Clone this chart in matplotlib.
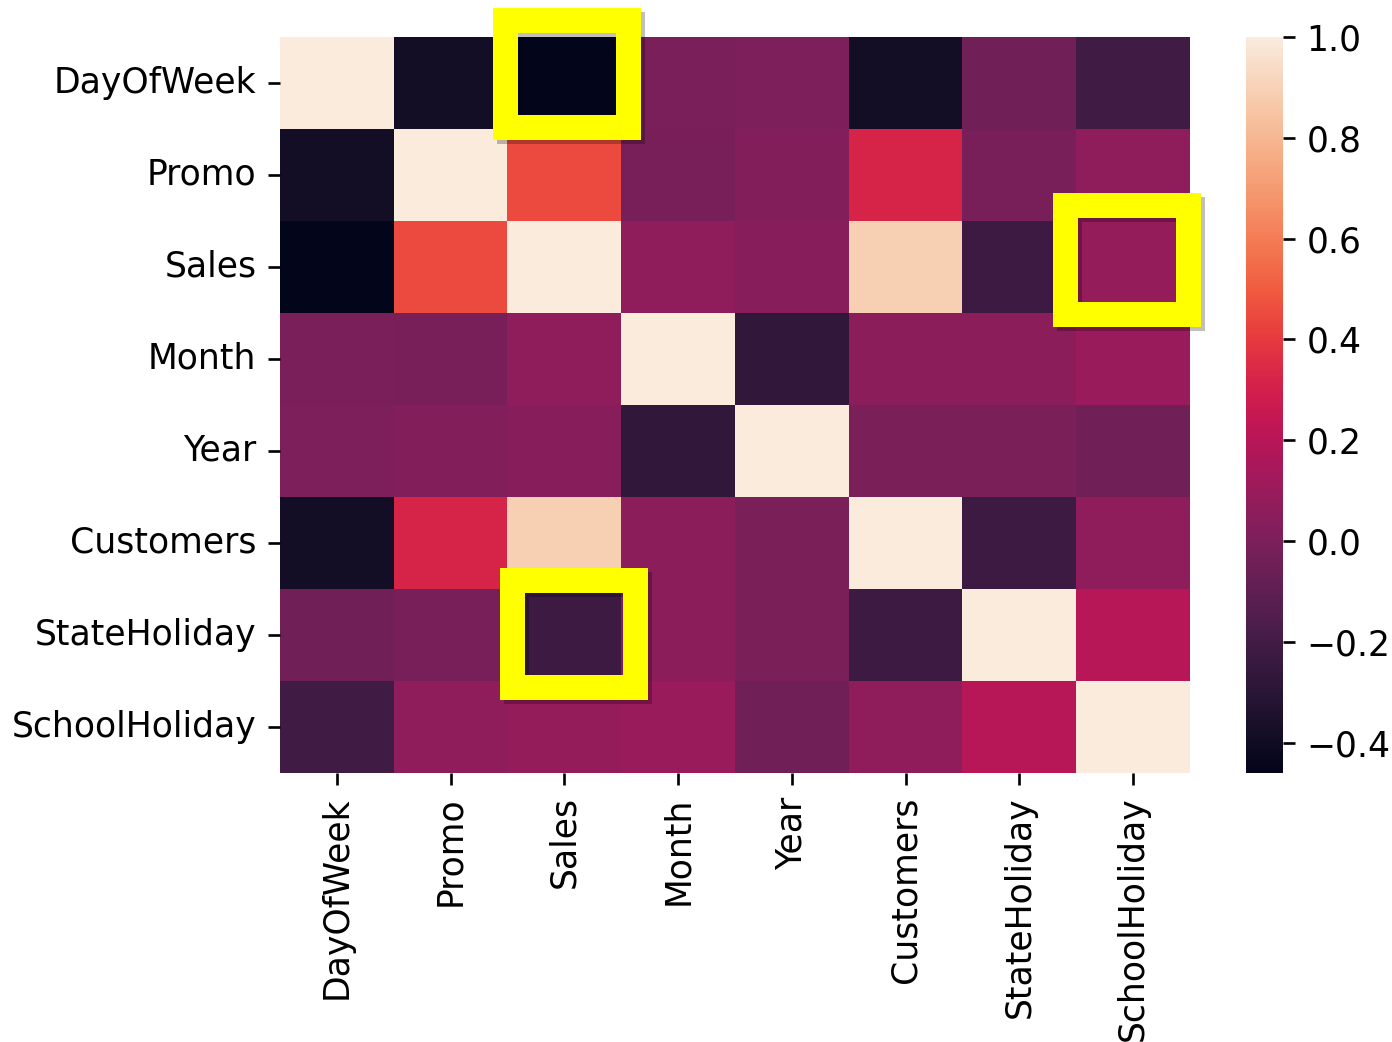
import numpy as np
import pandas as pd
import matplotlib
matplotlib.use("Agg")
import matplotlib.pyplot as plt
import matplotlib.patheffects as pe
from matplotlib.patches import Rectangle
import seaborn as sns

plt.rcParams["font.size"] = 10.4

# correlation matrix of the store features
cols = ["DayOfWeek", "Promo", "Sales", "Month", "Year",
        "Customers", "StateHoliday", "SchoolHoliday"]

day_of_week = [1.00, -0.39, -0.46, -0.005, 0.002, -0.39, -0.04, -0.21]
promo = [-0.39, 1.00, 0.45, -0.01, 0.02, 0.32, -0.015, 0.067]
sales = [-0.46, 0.45, 1.00, 0.07, 0.04, 0.89, -0.23, 0.085]
month = [-0.005, -0.01, 0.07, 1.00, -0.27, 0.05, 0.05, 0.10]
year = [0.002, 0.02, 0.04, -0.27, 1.00, -0.001, 0.0, -0.04]
customers = [-0.39, 0.32, 0.89, 0.05, -0.001, 1.00, -0.23, 0.07]
state_holiday = [-0.04, -0.015, -0.23, 0.05, 0.0, -0.23, 1.00, 0.20]
school_holiday = [-0.21, 0.067, 0.085, 0.10, -0.04, 0.07, 0.20, 1.00]

# highlight boxes around single cells: (x0, y0, x1, y1) in cell units
boxes = [(1.98, -0.18, 3.06, 0.98),   # DayOfWeek / Sales
         (6.90, 1.83, 7.98, 3.01),    # Sales / SchoolHoliday
         (2.04, 5.90, 3.12, 7.07)]    # StateHoliday / Sales

corr = pd.DataFrame([day_of_week, promo, sales, month, year,
                     customers, state_holiday, school_holiday],
                    index=cols, columns=cols)

fig = plt.figure(figsize=(5.8, 1042 / 240), dpi=240)
ax = fig.add_axes([0.2011, 0.2582, 0.6537, 0.7063])
cax = fig.add_axes([0.8951, 0.2582, 0.0266, 0.7063])

sns.heatmap(corr, ax=ax, cbar_ax=cax)
ax.set_xticklabels(cols, rotation=90)
ax.set_yticklabels(cols, rotation=0)

for x0, y0, x1, y1 in boxes:
    rect = Rectangle((x0, y0), x1 - x0, y1 - y0, fill=False,
                     edgecolor="#ffff00", linewidth=7.5, clip_on=False,
                     zorder=5, joinstyle="miter")
    rect.set_path_effects([pe.SimpleLineShadow(offset=(1.2, -1.2), shadow_color="k", alpha=0.25),
                           pe.Normal()])
    ax.add_patch(rect)

fig.savefig("out.png", dpi=240)
